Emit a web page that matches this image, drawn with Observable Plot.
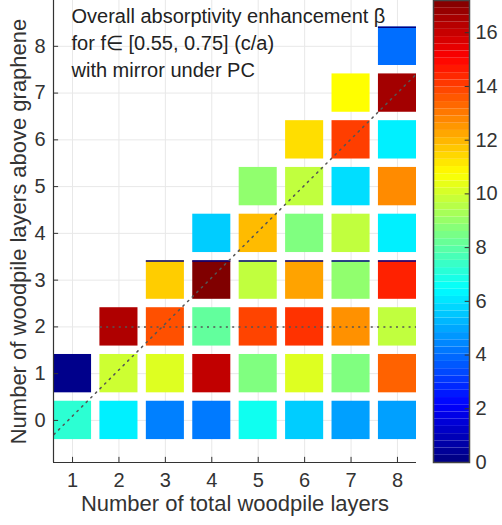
<!DOCTYPE html>
<html><head><meta charset="utf-8">
<script src="https://cdn.jsdelivr.net/npm/d3@7"></script>
<script src="https://cdn.jsdelivr.net/npm/@observablehq/plot@0.6"></script>
<style>
body{margin:0;background:#fff;}
#wrap{position:relative;width:502px;height:525px;}
#main,#cbar{position:absolute;top:0;}
#main{left:0;} #cbar{left:420px;}
</style></head><body><div id="wrap"><div id="main"></div><div id="cbar"></div></div>
<script>
// ---- data ----
const totalLayers = [1, 2, 3, 4, 5, 6, 7, 8];
const layersAbove = [0, 1, 2, 3, 4, 5, 6, 7, 8];
// beta values: one row per total layer count, indexed by layers above graphene (0..total)
const beta1 = [7.2, 0.2];
const beta2 = [6.2, 9.9, 16.4];
const beta3 = [4.3, 10.2, 13.7, 11.6];
const beta4 = [4.2, 16.1, 8.1, 17.2, 5.6];
const beta5 = [6.7, 8.6, 13.9, 9.7, 11.9, 8.9];
const beta6 = [5.6, 10.2, 14.2, 12.3, 8.6, 9.7, 11.3];
const beta7 = [4.85, 8.6, 12.6, 8.9, 9.7, 5.9, 14.0, 10.75];
const beta8 = [4.85, 13.4, 9.7, 14.5, 6.2, 12.7, 6.2, 16.6, 4.0];
const colorTicks = [0, 2, 4, 6, 8, 10, 12, 14, 16];
const colorMax = 17.2;
const diagonalLine = [{x: 0.6, y: -0.3}, {x: 8.4, y: 7.4}];
const hLine = [{y: 2, x1: 1.6, x2: 8.41}];
const edgeMarks = [{x: 3, y: 3}, {x: 4, y: 3}, {x: 5, y: 3}, {x: 6, y: 3}, {x: 7, y: 3}, {x: 8, y: 3}, {x: 8, y: 8}];
const annotation = "Overall absorptivity enhancement \u03b2\nfor f\u2208 [0.55, 0.75] (c/a)\nwith mirror under PC";
const xLabel = "Number of total woodpile layers";
const yLabel = "Number of woodpile layers above graphene";

const rows = [beta1, beta2, beta3, beta4, beta5, beta6, beta7, beta8];
const cells = [];
rows.forEach((r, i) => r.forEach((v, j) => cells.push({x: totalLayers[i], y: layersAbove[j], v})));

const xDomain = [0.59, 8.41];
const yDomain = [-0.9, 8.98];
const half = 0.41;
const font = "'Liberation Sans', Arial, sans-serif";
const ink = "#333";

function clamp(v) { return Math.max(0, Math.min(1, v)); }
function jet(t) {
  const r = clamp(1.5 - Math.abs(4 * t - 3));
  const g = clamp(1.5 - Math.abs(4 * t - 2));
  const b = clamp(1.5 - Math.abs(4 * t - 1));
  return `rgb(${Math.round(r * 255)},${Math.round(g * 255)},${Math.round(b * 255)})`;
}
const colorScale = {type: "linear", domain: [0, colorMax], interpolate: jet};

const main = Plot.plot({
  width: 502, height: 525,
  marginLeft: 53, marginRight: 86, marginTop: 0, marginBottom: 63,
  style: {fontFamily: font, color: ink, background: "white"},
  x: {domain: xDomain},
  y: {domain: yDomain},
  color: colorScale,
  marks: [
    Plot.ruleX(totalLayers, {stroke: "#e8e8e8"}),
    Plot.ruleY(layersAbove, {stroke: "#e8e8e8"}),
    Plot.rect(cells, {x1: d => d.x - half, x2: d => d.x + half, y1: d => d.y - half, y2: d => d.y + half, fill: "v"}),
    Plot.ruleY(edgeMarks, {y: d => d.y + half, x1: d => d.x - half, x2: d => d.x + half, stroke: "#000080", strokeWidth: 1.5}),
    Plot.line(diagonalLine, {x: "x", y: "y", stroke: "#555", strokeWidth: 1.5, strokeDasharray: "1.5,5"}),
    Plot.ruleY(hLine, {y: "y", x1: "x1", x2: "x2", stroke: "#555", strokeWidth: 1.5, strokeDasharray: "2,4.3"}),
    Plot.ruleX([xDomain[0]], {stroke: ink, strokeWidth: 1.2}),
    Plot.ruleY([yDomain[0]], {stroke: ink, strokeWidth: 1.2}),
    Plot.ruleX(totalLayers, {y1: yDomain[0], y2: yDomain[0] + 0.11, stroke: ink}),
    Plot.ruleY(layersAbove, {x1: xDomain[0], x2: xDomain[0] + 0.11, stroke: ink}),
    Plot.axisX(totalLayers, {tickSize: 0, tickPadding: 10, fontSize: 20, label: null}),
    Plot.axisY(layersAbove, {tickSize: 0, tickPadding: 8, fontSize: 20, label: null}),
    Plot.text([annotation], {frameAnchor: "top-left", dx: 18, dy: 3, lineAnchor: "top", lineHeight: 1.35, fontSize: 20, textAnchor: "start", fill: "#222"}),
    Plot.text([xLabel], {frameAnchor: "bottom", dy: 48, lineAnchor: "bottom", fontSize: 22, fill: ink}),
    Plot.text([yLabel], {frameAnchor: "left", dx: -28, rotate: -90, textAnchor: "middle", lineAnchor: "bottom", fontSize: 22, fill: ink})
  ]
});
document.getElementById("main").appendChild(main);

const steps = d3.range(64).map(i => ({y1: i * colorMax / 64, y2: (i + 1) * colorMax / 64, v: (i + 0.5) * colorMax / 64}));
const cbar = Plot.plot({
  width: 82, height: 525,
  marginLeft: 13, marginRight: 33, marginTop: 0, marginBottom: 63,
  style: {fontFamily: font, color: ink, background: "transparent"},
  x: {domain: [0, 1], axis: null},
  y: {domain: [0, colorMax]},
  color: colorScale,
  marks: [
    Plot.rect(steps, {x1: 0, x2: 1, y1: "y1", y2: "y2", fill: "v"}),
    Plot.ruleY(colorTicks, {x1: 0.88, x2: 1, stroke: ink}),
    Plot.frame({stroke: "#444", strokeWidth: 1.5}),
    Plot.axisY(colorTicks, {anchor: "right", tickSize: 0, tickPadding: 6, fontSize: 20, label: null})
  ]
});
document.getElementById("cbar").appendChild(cbar);
</script></body></html>
